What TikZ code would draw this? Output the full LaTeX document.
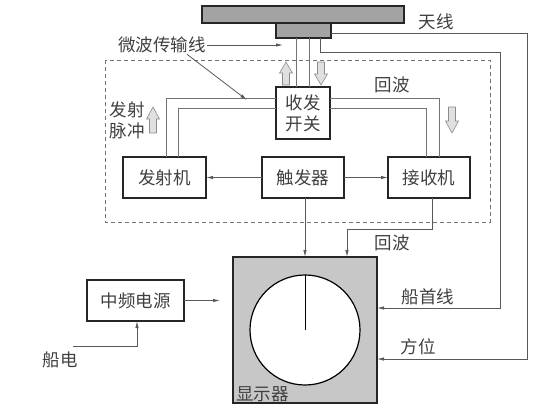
\documentclass[tikz,border=0pt]{standalone}
\usepackage{fontspec}
\setmainfont{Noto Sans CJK SC}
\usetikzlibrary{arrows.meta}

\newcommand{\hollowarrow}[4]{% x, tail, neck, head
	\draw[black!45, fill=black!12, line width=0.6pt] (#1-3.5,#2) -- (#1-3.5,#3) -- (#1-6.5,#3) -- (#1,#4) -- (#1+6.5,#3) -- (#1+3.5,#3) -- (#1+3.5,#2) -- cycle;}

\begin{document}
\begin{tikzpicture}[x=1pt, y=-1pt,
		box/.style={draw=black!85, line width=1.2pt, fill=white, inner sep=0pt, outer sep=0pt, text=black!75, font=\fontsize{17.5}{21}\selectfont},
		lbl/.style={text=black!75, inner sep=1pt, font=\fontsize{17.5}{21}\selectfont},
		wave/.style={draw=black!55, line width=0.8pt},
		sig/.style={draw=black!65, line width=0.8pt, -{Latex[length=7pt,width=3.5pt]}}]
	\useasboundingbox (0,0) rectangle (554,408);
	\draw[dashed, black!55, line width=0.8pt, dash pattern=on 4pt off 3pt] (105,60) rectangle (490,222);
	% antenna and units
	\node[box, fill=black!36, minimum width=202pt, minimum height=17pt] (ant) at (303,14.5) {};
	\node[box, fill=black!36, minimum width=55pt, minimum height=15pt] (base) at (303.5,30.5) {};
	\node[box, minimum width=54pt, minimum height=52pt, align=center] (sw) at (303,113) {收发\\开关};
	\node[box, minimum width=83pt, minimum height=41pt] (tx) at (164.5,177.5) {发射机};
	\node[box, minimum width=82pt, minimum height=41pt] (trig) at (303,177.5) {触发器};
	\node[box, minimum width=82pt, minimum height=41pt] (rx) at (429,177.5) {接收机};
	\node[box, fill=black!22, minimum width=144pt, minimum height=146pt] (disp) at (305,330) {};
	\node[box, minimum width=97pt, minimum height=41pt] (pwr) at (135.5,300.5) {中频电源};
	\draw[line width=1.2pt, fill=white] (disp.center) circle (55pt);
	\draw[line width=1pt] (disp.center) -- ++(0,-55);
	\node[lbl, anchor=south west] (dlbl) at ([xshift=2pt]disp.south west) {显示器};
	% labels
	\node[lbl] (antl) at (436,22) {天线};
	\node[lbl] (mwl) at (162,45) {微波传输线};
	\node[lbl] (echo1) at (392,85) {回波};
	\node[lbl] (echo2) at (392,243) {回波};
	\node[lbl, align=center] (pulse) at (127,120) {发射\\脉冲};
	\node[lbl] (head) at (428,297) {船首线};
	\node[lbl] (brg) at (418,347) {方位};
	\node[lbl] (mains) at (60,360) {船电};
	\coordinate (mw1) at (283,45);
	\coordinate (mw2) at (247,100);
	\coordinate (m) at (73,346);
	% waveguides
	\draw[wave] ([xshift=-7pt]sw.north) -- ([xshift=-7pt]sw.north |- base.south);
	\draw[wave] ([xshift=6pt]sw.north) -- ([xshift=6pt]sw.north |- base.south);
	\draw[wave] ([yshift=-11pt]sw.north west) -| ([xshift=1.5pt]tx.north);
	\draw[wave] ([yshift=-21pt]sw.north west) -| ([xshift=13.5pt]tx.north);
	\draw[wave] ([yshift=-11pt]sw.north east) -| ([xshift=10pt]rx.north);
	\draw[wave] ([yshift=-21pt]sw.north east) -| ([xshift=-3pt]rx.north);
	% signals
	\draw[sig] (mwl.east) -- (mw1);
	\draw[sig] ([xshift=25pt]mwl.south) -- (mw2);
	\draw[sig] ([yshift=-2.5pt]base.east) -| ([xshift=150pt,yshift=-29pt]disp.east) -- ([yshift=-29pt]disp.east);
	\draw[sig] ([xshift=17pt]base.south) -- ++(0,14) -| ([xshift=123pt,yshift=22pt]disp.east) -- ([yshift=22pt]disp.east);
	\draw[sig] (trig.west) -- (tx.east);
	\draw[sig] (trig.east) -- (rx.west);
	\draw[sig] ([xshift=2pt]trig.south) -- ([xshift=2pt]trig.south |- disp.north);
	\draw[sig] ([xshift=3pt]rx.south) -- ++(0,31) -| ([xshift=42pt]disp.north);
	\draw[sig, shorten >=13pt] (pwr.east) -- (pwr.east -| disp.west);
	\draw[sig] (m) -| ([xshift=1.5pt]pwr.south);
	% hollow arrows
	\hollowarrow{286}{85}{73}{62}
	\hollowarrow{321}{62}{74}{85}
	\hollowarrow{452}{107}{121}{133}
	\hollowarrow{153}{133}{119}{107}
\end{tikzpicture}
\end{document}
